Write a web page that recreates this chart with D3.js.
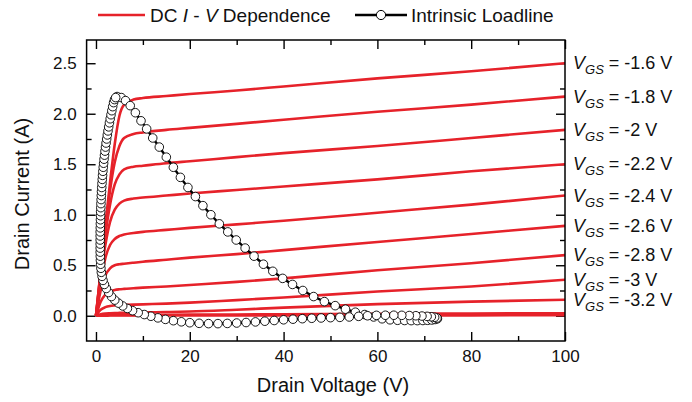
<!DOCTYPE html>
<html>
<head>
<meta charset="utf-8">
<script src="https://cdn.jsdelivr.net/npm/d3@7"></script>
<style>
  body { margin: 0; background: #fff; }
  svg { display: block; font-family: "Liberation Sans", Arial, Helvetica, sans-serif; }
</style>
</head>
<body>
<svg id="chart" width="692" height="402"></svg>
<script>
// Drain voltage sample points (V) shared by every DC I-V curve
const drainVoltage = [0, 1, 2, 3, 4, 5, 6, 8, 10, 15, 20, 30, 40, 60, 80, 100];

// Drain current (A) for each gate voltage
const idsVgsM1_6 = [0, 0.45, 0.90, 1.32, 1.70, 1.98, 2.09, 2.14, 2.155, 2.175, 2.195, 2.23, 2.27, 2.35, 2.42, 2.50];
const idsVgsM1_8 = [0, 0.44, 0.86, 1.24, 1.52, 1.68, 1.76, 1.80, 1.815, 1.84, 1.86, 1.90, 1.94, 2.02, 2.09, 2.17];
const idsVgsM2_0 = [0, 0.42, 0.80, 1.10, 1.30, 1.40, 1.45, 1.475, 1.485, 1.51, 1.53, 1.57, 1.61, 1.68, 1.76, 1.84];
const idsVgsM2_2 = [0, 0.38, 0.70, 0.93, 1.05, 1.11, 1.14, 1.16, 1.17, 1.19, 1.21, 1.245, 1.28, 1.35, 1.43, 1.50];
const idsVgsM2_4 = [0, 0.32, 0.57, 0.70, 0.76, 0.79, 0.805, 0.82, 0.83, 0.85, 0.87, 0.905, 0.94, 1.02, 1.10, 1.19];
const idsVgsM2_6 = [0, 0.25, 0.40, 0.47, 0.50, 0.51, 0.515, 0.525, 0.535, 0.555, 0.575, 0.61, 0.65, 0.73, 0.81, 0.89];
const idsVgsM2_8 = [0, 0.14, 0.21, 0.24, 0.255, 0.262, 0.266, 0.272, 0.278, 0.29, 0.305, 0.335, 0.37, 0.45, 0.52, 0.60];
const idsVgsM3_0 = [0, 0.06, 0.085, 0.097, 0.102, 0.105, 0.107, 0.11, 0.113, 0.12, 0.13, 0.155, 0.18, 0.24, 0.29, 0.356];
const idsVgsM3_2 = [0, 0.015, 0.022, 0.025, 0.027, 0.028, 0.029, 0.031, 0.033, 0.037, 0.042, 0.06, 0.08, 0.115, 0.14, 0.158];
const idsVgsM3_4 = [0, 0.004, 0.006, 0.007, 0.007, 0.008, 0.008, 0.008, 0.009, 0.010, 0.011, 0.013, 0.015, 0.019, 0.022, 0.025];
const idsVgsM3_6 = [0, 0.001, 0.001, 0.002, 0.002, 0.002, 0.002, 0.002, 0.002, 0.002, 0.002, 0.003, 0.003, 0.004, 0.004, 0.005];

const gateLabels = ["-1.6", "-1.8", "-2", "-2.2", "-2.4", "-2.6", "-2.8", "-3", "-3.2"];

// Intrinsic loadline (V, A), traced from the current peak around the loop
const loadlineV = [
  4.5, 5.4, 6.3, 7.3, 8.4, 9.6, 10.8, 12.1, 13.5, 15.0, 16.5, 18.0, 19.6, 21.2, 22.8, 24.5,
  26.3, 28.1, 29.9, 31.8, 33.7, 35.7, 37.7, 39.8, 41.9, 44.1, 46.4, 48.7, 51.0, 53.2, 55.3, 57.3,
  59.2, 61.0, 62.7, 64.3, 65.8, 67.2, 68.5, 69.7, 70.7, 71.6, 72.3, 72.8,
  72.7, 72.2, 71.5, 70.6, 69.5, 68.2, 66.8, 65.2, 63.5, 61.7, 59.8, 57.9, 56.0,
  54.0, 52.0, 50.0, 48.0, 46.0, 44.0, 42.0, 40.0, 38.0, 36.0, 34.0, 32.0, 30.0, 28.0, 26.0, 24.0,
  22.0, 20.0, 18.2, 16.5, 14.8, 13.2, 11.7, 10.3, 9.0, 7.8, 6.7, 5.7, 4.8, 4.0, 3.3, 2.7, 2.2, 1.8,
  1.5, 1.3, 1.15, 1.05, 1.0, 0.95, 0.92, 0.9, 0.9, 0.9, 0.9, 0.9, 0.9, 0.92, 0.94, 0.96, 0.98,
  1.0, 1.03, 1.06, 1.1, 1.14, 1.18, 1.23, 1.28, 1.34, 1.4, 1.47, 1.55, 1.63, 1.72, 1.82, 1.92,
  2.03, 2.15, 2.28, 2.42, 2.56, 2.71, 2.87, 3.03, 3.2, 3.38, 3.56, 3.75, 3.95, 4.2
];
const loadlineI = [
  2.17, 2.16, 2.13, 2.08, 2.01, 1.93, 1.85, 1.76, 1.67, 1.57, 1.47, 1.37, 1.27, 1.18, 1.09, 1.00,
  0.91, 0.83, 0.75, 0.67, 0.59, 0.51, 0.44, 0.37, 0.31, 0.25, 0.19, 0.14, 0.10, 0.065, 0.035, 0.012,
  -0.012, -0.03, -0.04, -0.045, -0.047, -0.048, -0.048, -0.047, -0.045, -0.042, -0.037, -0.03,
  -0.022, -0.015, -0.01, -0.006, -0.003, 0.0, 0.002, 0.004, 0.005, 0.005, 0.004, 0.0, -0.006,
  -0.012, -0.016, -0.019, -0.022, -0.025, -0.029, -0.034, -0.04, -0.047, -0.054, -0.061, -0.067, -0.072, -0.076, -0.078, -0.078,
  -0.075, -0.069, -0.06, -0.049, -0.036, -0.021, -0.005, 0.012, 0.03, 0.05, 0.072, 0.097, 0.125, 0.155, 0.19, 0.23, 0.27, 0.31,
  0.35, 0.39, 0.43, 0.47, 0.51, 0.55, 0.59, 0.63, 0.67, 0.71, 0.75, 0.79, 0.83, 0.87, 0.91, 0.95, 0.99,
  1.03, 1.07, 1.11, 1.15, 1.19, 1.23, 1.27, 1.31, 1.35, 1.39, 1.43, 1.47, 1.51, 1.55, 1.59, 1.63,
  1.67, 1.71, 1.75, 1.79, 1.83, 1.87, 1.91, 1.95, 1.99, 2.03, 2.07, 2.11, 2.14, 2.16
];

// Axis ticks
const xMajorTicks = [0, 20, 40, 60, 80, 100];
const xMinorTicks = [10, 30, 50, 70, 90];
const yMajorTicks = [0, 0.5, 1.0, 1.5, 2.0, 2.5];
const yMinorTicks = [0.25, 0.75, 1.25, 1.75, 2.25];

const curves = [idsVgsM1_6, idsVgsM1_8, idsVgsM2_0, idsVgsM2_2, idsVgsM2_4, idsVgsM2_6,
                idsVgsM2_8, idsVgsM3_0, idsVgsM3_2, idsVgsM3_4, idsVgsM3_6]
  .map(ids => drainVoltage.map((v, i) => [v, ids[i]]));
const loadline = loadlineV.map((v, i) => [v, loadlineI[i]]);

const RED = "#e6222a";
const svg = d3.select("#chart");

const plot = { left: 86.6, right: 565, top: 40, bottom: 341 };
const x = d3.scaleLinear().domain([-2, 100]).range([plot.left, plot.right]);
const y = d3.scaleLinear().domain([-0.25, 2.73]).range([plot.bottom, plot.top]);

// Clip data to the frame
svg.append("defs").append("clipPath").attr("id", "plotClip")
  .append("rect").attr("x", plot.left).attr("y", plot.top)
  .attr("width", plot.right - plot.left).attr("height", plot.bottom - plot.top);

// Axes with inward ticks on all four sides
function styleAxis(g) {
  g.select(".domain").remove();
  g.selectAll(".tick line").attr("stroke", "#000").attr("stroke-width", 1.4);
  g.selectAll(".tick text").attr("fill", "#111").attr("font-size", 17);
}
const major = 9, minor = 5;
svg.append("g").attr("transform", `translate(0,${plot.bottom})`)
  .call(d3.axisBottom(x).tickValues(xMajorTicks).tickSize(-major).tickPadding(9).tickFormat(d3.format("d")))
  .call(styleAxis);
svg.append("g").attr("transform", `translate(0,${plot.bottom})`)
  .call(d3.axisBottom(x).tickValues(xMinorTicks).tickSize(-minor).tickFormat(""))
  .call(styleAxis);
svg.append("g").attr("transform", `translate(0,${plot.top})`)
  .call(d3.axisTop(x).tickValues(xMajorTicks).tickSize(-major).tickFormat(""))
  .call(styleAxis);
svg.append("g").attr("transform", `translate(0,${plot.top})`)
  .call(d3.axisTop(x).tickValues(xMinorTicks).tickSize(-minor).tickFormat(""))
  .call(styleAxis);
svg.append("g").attr("transform", `translate(${plot.left},0)`)
  .call(d3.axisLeft(y).tickValues(yMajorTicks).tickSize(-major).tickPadding(10).tickFormat(d3.format(".1f")))
  .call(styleAxis);
svg.append("g").attr("transform", `translate(${plot.left},0)`)
  .call(d3.axisLeft(y).tickValues(yMinorTicks).tickSize(-minor).tickFormat(""))
  .call(styleAxis);
svg.append("g").attr("transform", `translate(${plot.right},0)`)
  .call(d3.axisRight(y).tickValues(yMajorTicks).tickSize(-major).tickFormat(""))
  .call(styleAxis);
svg.append("g").attr("transform", `translate(${plot.right},0)`)
  .call(d3.axisRight(y).tickValues(yMinorTicks).tickSize(-minor).tickFormat(""))
  .call(styleAxis);

// DC I-V curves
const ivLine = d3.line().x(d => x(d[0])).y(d => y(d[1])).curve(d3.curveMonotoneX);
const data = svg.append("g").attr("clip-path", "url(#plotClip)");
data.selectAll("path.iv").data(curves).join("path")
  .attr("class", "iv")
  .attr("d", ivLine)
  .attr("fill", "none")
  .attr("stroke", RED)
  .attr("stroke-width", 2.6)
  .attr("stroke-linejoin", "round");

// Intrinsic loadline: connecting line then open circles
const llLine = d3.line().x(d => x(d[0])).y(d => y(d[1]));
data.append("path")
  .attr("d", llLine(loadline))
  .attr("fill", "none")
  .attr("stroke", "#000")
  .attr("stroke-width", 2.4);
data.selectAll("circle.ll").data(loadline).join("circle")
  .attr("class", "ll")
  .attr("cx", d => x(d[0]))
  .attr("cy", d => y(d[1]))
  .attr("r", 4.3)
  .attr("fill", "#fff")
  .attr("stroke", "#000")
  .attr("stroke-width", 0.9);

// Frame
svg.append("rect")
  .attr("x", plot.left).attr("y", plot.top)
  .attr("width", plot.right - plot.left).attr("height", plot.bottom - plot.top)
  .attr("fill", "none").attr("stroke", "#000").attr("stroke-width", 1.5);

// Gate-voltage labels at the end of each curve
const labels = svg.append("g").attr("font-size", 18).attr("fill", "#111");
gateLabels.forEach((lab, i) => {
  const yEnd = y(curves[i][curves[i].length - 1][1]);
  const t = labels.append("text").attr("x", 573).attr("y", yEnd + 6);
  t.append("tspan").attr("font-style", "italic").text("V");
  t.append("tspan").attr("font-style", "italic").attr("font-size", 13).attr("dy", 5).text("GS");
  t.append("tspan").attr("dy", -5).text(` = ${lab} V`);
});

// Axis titles
svg.append("text")
  .attr("x", 333).attr("y", 392)
  .attr("text-anchor", "middle").attr("font-size", 20).attr("fill", "#111")
  .text("Drain Voltage (V)");
svg.append("text")
  .attr("transform", "translate(29,194) rotate(-90)")
  .attr("text-anchor", "middle").attr("font-size", 20).attr("fill", "#111")
  .text("Drain Current (A)");

// Legend
const legend = svg.append("g").attr("font-size", 19).attr("fill", "#111");
legend.append("line").attr("x1", 98).attr("x2", 145).attr("y1", 15).attr("y2", 15)
  .attr("stroke", RED).attr("stroke-width", 2.6);
const lt = legend.append("text").attr("x", 150).attr("y", 22);
lt.append("tspan").text("DC ");
lt.append("tspan").attr("font-style", "italic").text("I");
lt.append("tspan").text(" - ");
lt.append("tspan").attr("font-style", "italic").text("V");
lt.append("tspan").text(" Dependence");
legend.append("line").attr("x1", 355).attr("x2", 407).attr("y1", 15).attr("y2", 15)
  .attr("stroke", "#000").attr("stroke-width", 2.4);
legend.append("circle").attr("cx", 381).attr("cy", 15).attr("r", 4.6)
  .attr("fill", "#fff").attr("stroke", "#000").attr("stroke-width", 1);
legend.append("text").attr("x", 411).attr("y", 22).text("Intrinsic Loadline");
</script>
</body>
</html>
